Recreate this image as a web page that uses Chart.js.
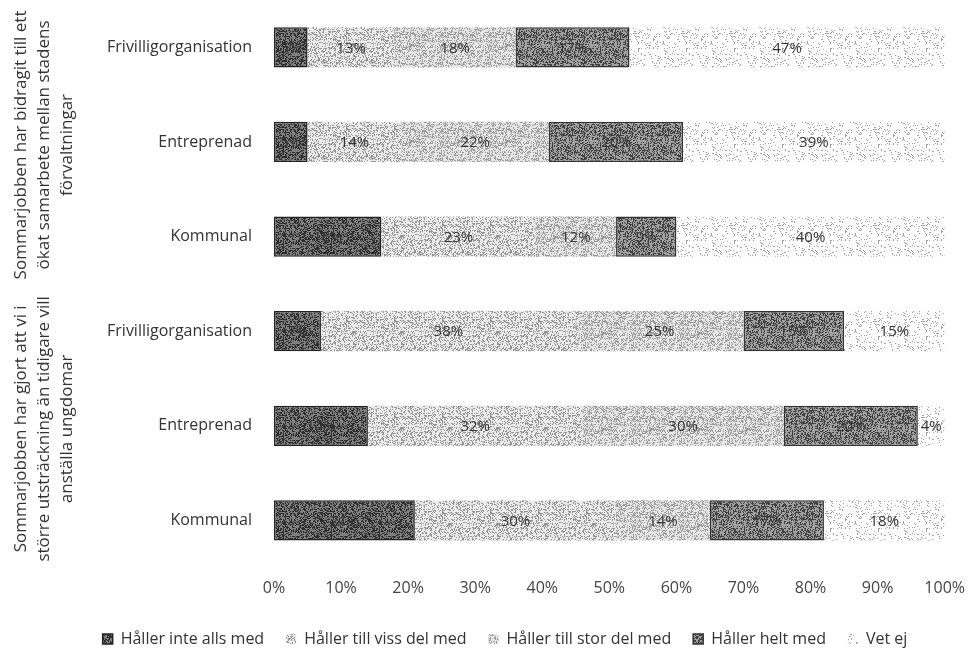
<!DOCTYPE html>
<html>
<head>
<meta charset="utf-8">
<script src="https://cdn.jsdelivr.net/npm/chart.js@4.4.1/dist/chart.umd.min.js"></script>
<style>
  html, body { margin: 0; padding: 0; background: #fff; }
  canvas { display: block; }
</style>
</head>
<body>
<canvas id="surveyChart" width="976" height="649"></canvas>
<script>
const categories = ['Frivilligorganisation', 'Entreprenad', 'Kommunal', 'Frivilligorganisation', 'Entreprenad', 'Kommunal'];
const groupTitles = [
  ['Sommarjobben har bidragit till ett', 'ökat samarbete mellan stadens', 'förvaltningar'],
  ['Sommarjobben har gjort att vi i', 'större utsträckning än tidigare vill', 'anställa ungdomar']
];
const seriesNames = ['Håller inte alls med', 'Håller till viss del med', 'Håller till stor del med', 'Håller helt med', 'Vet ej'];
const inteAlls = [5, 5, 16, 7, 14, 21];
const vissDel = [13, 14, 23, 38, 32, 30];
const storDel = [18, 22, 12, 25, 30, 14];
const heltMed = [17, 20, 9, 15, 20, 17];
const vetEj = [47, 39, 40, 15, 4, 18];
const xTicks = [0, 10, 20, 30, 40, 50, 60, 70, 80, 90, 100];

// grainy fills to look like the scanned original
function grain(bg, dot, density, seed) {
  const c = document.createElement('canvas');
  c.width = 48; c.height = 48;
  const g = c.getContext('2d');
  g.fillStyle = bg;
  g.fillRect(0, 0, 48, 48);
  g.fillStyle = dot;
  let s = seed;
  for (let y = 0; y < 48; y++) {
    for (let x = 0; x < 48; x++) {
      s = (s * 1103515245 + 12345) % 2147483648;
      if (s / 2147483648 < density) g.fillRect(x, y, 1, 1);
    }
  }
  return g.createPattern(c, 'repeat');
}

const ctx = document.getElementById('surveyChart').getContext('2d');
const fills = [
  grain('#808080', '#2e2e2e', 0.48, 7),
  grain('#ebebeb', '#939393', 0.32, 11),
  grain('#e6e6e6', '#9c9c9c', 0.36, 19),
  grain('#a0a0a0', '#404040', 0.42, 23),
  grain('#fcfcfc', '#a0a0a0', 0.11, 31)
];
const borders = ['#222', 'rgba(0,0,0,0)', 'rgba(0,0,0,0)', '#333', 'rgba(0,0,0,0)'];
const values = [inteAlls, vissDel, storDel, heltMed, vetEj];

const segmentLabels = {
  id: 'segmentLabels',
  afterDatasetsDraw(chart) {
    const c = chart.ctx;
    c.save();
    c.font = '15px "Open Sans"';
    c.fillStyle = '#333';
    c.textAlign = 'center';
    c.textBaseline = 'middle';
    chart.data.datasets.forEach((ds, i) => {
      chart.getDatasetMeta(i).data.forEach((bar, j) => {
        c.fillText(ds.data[j] + '%', (bar.x + bar.base) / 2, bar.y + 1);
      });
    });
    c.restore();
  }
};

const groupLabels = {
  id: 'groupLabels',
  afterDraw(chart) {
    const c = chart.ctx;
    const y = chart.scales.y;
    c.save();
    c.font = '17px "Open Sans"';
    c.fillStyle = '#333';
    c.textAlign = 'center';
    c.textBaseline = 'middle';
    groupTitles.forEach((lines, g) => {
      const mid = (y.getPixelForValue(g * 3) + y.getPixelForValue(g * 3 + 2)) / 2 + 3;
      lines.forEach((line, k) => {
        c.save();
        c.translate(21 + k * 23, mid);
        c.rotate(-Math.PI / 2);
        c.fillText(line, 0, 0);
        c.restore();
      });
    });
    c.restore();
  }
};

new Chart(ctx, {
  type: 'bar',
  data: {
    labels: categories,
    datasets: seriesNames.map((name, i) => ({
      label: name,
      data: values[i],
      backgroundColor: fills[i],
      borderColor: borders[i],
      borderWidth: i === 0 || i === 3 ? 1.5 : 0,
      borderSkipped: false,
      barPercentage: 0.85,
      categoryPercentage: 0.5
    }))
  },
  options: {
    indexAxis: 'y',
    responsive: false,
    animation: false,
    layout: { padding: { top: 0, right: 26, bottom: -8, left: 60 } },
    scales: {
      x: {
        stacked: true,
        min: 0,
        max: 100,
        afterBuildTicks: s => { s.ticks = xTicks.map(v => ({ value: v })); },
        ticks: {
          callback: v => v + '%',
          font: { family: 'Open Sans', size: 16 },
          color: '#444',
          padding: 11,
          maxRotation: 0
        },
        grid: { display: false, drawTicks: false },
        border: { display: false }
      },
      y: {
        stacked: true,
        afterFit: s => { s.width = 214; s.paddingTop = 0; s.paddingBottom = 0; },
        ticks: {
          font: { family: 'Open Sans', size: 16 },
          color: '#333',
          padding: 22
        },
        grid: { display: false, drawTicks: false },
        border: { display: false }
      }
    },
    plugins: {
      legend: {
        position: 'bottom',
        labels: {
          boxWidth: 10,
          boxHeight: 10,
          padding: 22,
          font: { family: 'Open Sans', size: 16 },
          color: '#333'
        }
      },
      tooltip: { enabled: false }
    }
  },
  plugins: [segmentLabels, groupLabels]
});
</script>
</body>
</html>
